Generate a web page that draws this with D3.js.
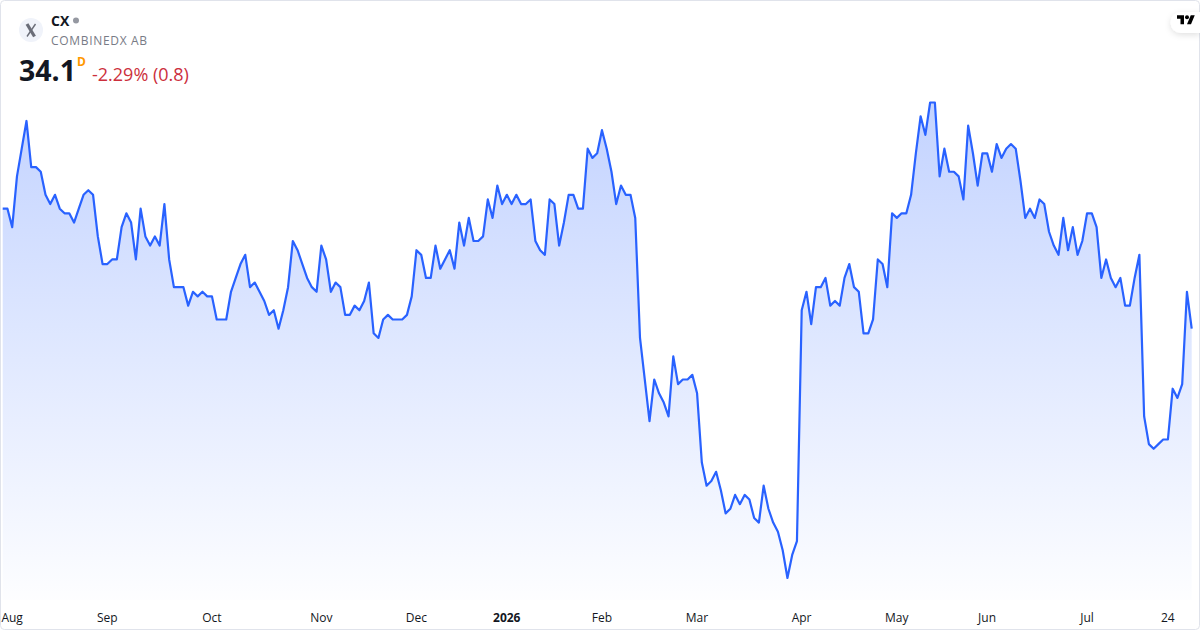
<!DOCTYPE html>
<html><head><meta charset="utf-8">
<script src="https://cdn.jsdelivr.net/npm/d3@7"></script>
<style>
html,body{margin:0;padding:0;background:#fff;width:1200px;height:630px;overflow:hidden}
svg{display:block}
text{font-family:"Open Sans","Noto Sans",sans-serif}
</style></head><body>
<svg id="c" width="1200" height="630"></svg>
<script>
const closes = [
36.7,36.7,36.3,37.4,38.0,38.6,37.6,37.6,37.5,37.0,36.8,37.0,36.7,36.6,36.6,36.4,36.7,37.0,37.1,37.0,
36.1,35.5,35.5,35.6,35.6,36.3,36.6,36.4,35.6,36.7,36.1,35.9,36.1,35.9,36.8,35.6,35.0,35.0,35.0,34.6,
34.9,34.8,34.9,34.8,34.8,34.3,34.3,34.3,34.9,35.2,35.5,35.7,35.0,35.1,34.9,34.7,34.4,34.5,34.1,34.5,
35.0,36.0,35.8,35.5,35.2,35.0,34.9,35.9,35.6,34.9,35.1,35.0,34.4,34.4,34.6,34.5,34.7,35.1,34.0,33.9,
34.3,34.4,34.3,34.3,34.3,34.4,34.8,35.8,35.7,35.2,35.2,35.9,35.4,35.6,35.8,35.4,36.4,35.9,36.5,36.0,
36.0,36.1,36.9,36.5,37.2,36.8,37.0,36.8,37.0,36.8,36.8,36.9,36.0,35.8,35.7,36.9,36.8,35.9,36.4,37.0,
37.0,36.7,36.7,38.0,37.8,37.9,38.4,38.0,37.5,36.8,37.2,37.0,37.0,36.5,33.9,33.0,32.1,33.0,32.7,32.5,
32.2,33.5,32.9,33.0,33.0,33.1,32.7,31.2,30.7,30.8,31.0,30.6,30.1,30.2,30.5,30.3,30.5,30.4,30.0,29.9,
30.7,30.2,29.9,29.7,29.3,28.7,29.2,29.5,34.5,34.9,34.2,35.0,35.0,35.2,34.6,34.7,34.6,35.2,35.5,35.0,
34.9,34.0,34.0,34.3,35.6,35.5,35.0,36.6,36.5,36.6,36.6,37.0,37.9,38.7,38.3,39.0,39.0,37.4,38.0,37.5,
37.5,37.4,36.9,38.5,37.9,37.2,37.9,37.9,37.5,38.1,37.8,38.0,38.1,38.0,37.3,36.5,36.7,36.5,36.9,36.8,
36.2,35.9,35.7,36.5,35.8,36.3,35.7,36.0,36.6,36.6,36.3,35.2,35.6,35.2,35.0,35.2,34.6,34.6,35.2,35.7,
32.2,31.6,31.5,31.6,31.7,31.7,32.8,32.6,32.9,34.9,34.1
];
const tickIndexes = [2,22,44,67,87,106,126,146,168,188,207,228,245];
const tickLabels = ["Aug","Sep","Oct","Nov","Dec","2026","Feb","Mar","Apr","May","Jun","Jul","24"];
const boldLabels = ["2026"];

const svg = d3.select("#c");
const x = d3.scaleLinear().domain([0, closes.length - 1]).range([2.7, 1191.7]);
const y = d3.scaleLinear().domain([28.7, 39.0]).range([578, 102.5]);
const baseY = 600;

const defs = svg.append("defs");
const grad = defs.append("linearGradient").attr("id","g").attr("gradientUnits","userSpaceOnUse")
  .attr("x1",0).attr("x2",0).attr("y1",y(39)).attr("y2",baseY);
grad.append("stop").attr("offset",0).attr("stop-color","#2962FF").attr("stop-opacity",0.28);
grad.append("stop").attr("offset",1).attr("stop-color","#2962FF").attr("stop-opacity",0.01);
const filt = defs.append("filter").attr("id","sh").attr("x","-50%").attr("y","-50%").attr("width","200%").attr("height","200%");
filt.append("feDropShadow").attr("dx",0).attr("dy",2).attr("stdDeviation",3).attr("flood-color","#000").attr("flood-opacity",0.12);

svg.append("path").datum(closes)
  .attr("d", d3.area().x((d,i)=>x(i)).y0(baseY).y1(d=>y(d)))
  .attr("fill","url(#g)");
svg.append("path").datum(closes)
  .attr("d", d3.line().x((d,i)=>x(i)).y(d=>y(d)))
  .attr("fill","none").attr("stroke","#2962FF").attr("stroke-width",2.2).attr("stroke-linejoin","round");

// axis
const axis = d3.axisBottom(x).tickValues(tickIndexes)
  .tickFormat((d,i)=>tickLabels[i]).tickSize(0).tickPadding(0);
const gx = svg.append("g").attr("transform","translate(-0.6,613.3)").call(axis);
gx.select(".domain").remove();
gx.selectAll("text").attr("font-size",12).attr("fill","#131722")
  .attr("font-family",'"Open Sans",sans-serif')
  .attr("font-weight",d=>boldLabels.includes(tickLabels[tickIndexes.indexOf(d)])?700:400);

// frame
svg.append("rect").attr("x",0.5).attr("y",0.5).attr("width",1199).attr("height",629).attr("rx",4)
  .attr("fill","none").attr("stroke","#E0E3EB");

// header
svg.append("circle").attr("cx",31).attr("cy",30).attr("r",12).attr("fill","#F0F3FA");
const logo = svg.append("g").attr("stroke","#6A6D78").attr("fill","none");
logo.append("path").attr("d","M27 24 L34.5 36.5").attr("stroke-width",3.2);
logo.append("path").attr("d","M35.5 24 L27 36.5").attr("stroke-width",1.4);
svg.append("text").attr("x",51).attr("y",26).attr("font-size",14).attr("font-weight",700).attr("fill","#131722").text("CX");
svg.append("circle").attr("cx",76).attr("cy",20.5).attr("r",3).attr("fill","#9598A1");
svg.append("text").attr("x",51).attr("y",45).attr("font-size",12).attr("letter-spacing",0.68).attr("fill","#787B86").text("COMBINEDX AB");
svg.append("text").attr("x",19).attr("y",81).attr("font-size",28.5).attr("font-weight",700).attr("fill","#131722").text("34.1");
svg.append("text").attr("x",77).attr("y",66).attr("font-size",12).attr("font-weight",700).attr("fill","#FF9800").text("D");
svg.append("text").attr("x",92).attr("y",81).attr("font-size",18).attr("fill","#CC2F3C").text("-2.29% (0.8)");

// TV badge
svg.append("path").attr("d","M1200 12 H1181 A10.5 10.5 0 0 0 1181 33 H1200 Z").attr("fill","#fff").attr("filter","url(#sh)");
const tv = svg.append("g").attr("transform","translate(1177,13.2) scale(0.5)").attr("fill","#000");
tv.append("path").attr("d","M14 22H7V11H0V4h14v18zM28 22h-8l7.5-18h8L28 22z");
tv.append("circle").attr("cx",20).attr("cy",8).attr("r",4);
</script>
</body></html>
